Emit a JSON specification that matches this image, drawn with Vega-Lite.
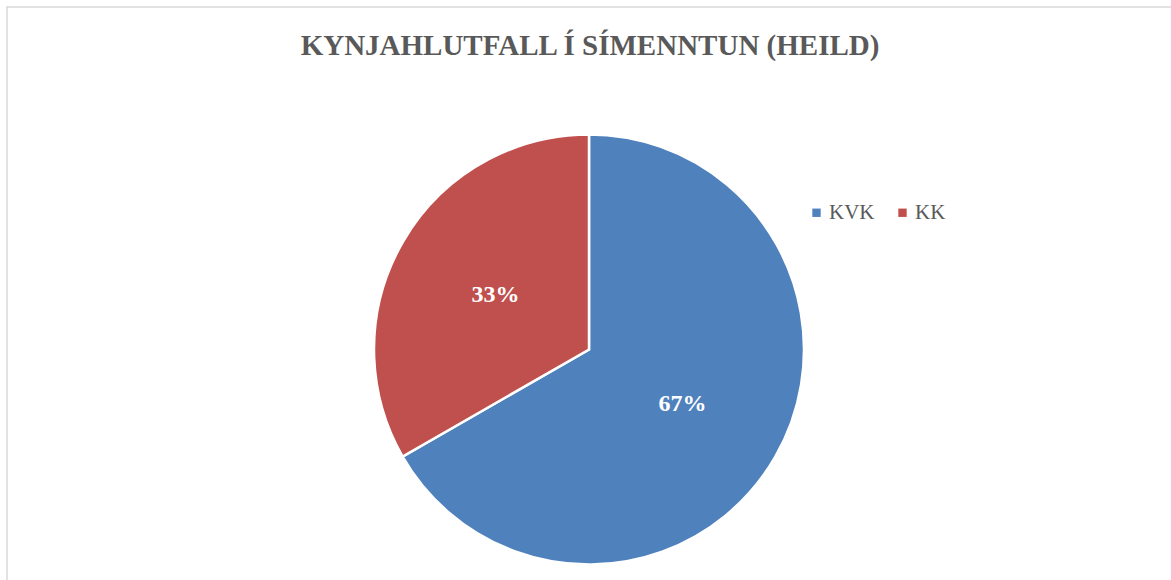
{
  "$schema": "https://vega.github.io/schema/vega-lite/v6.json",
  "width": 1166,
  "height": 575,
  "autosize": {"type": "none"},
  "padding": {"left": 7, "top": 7, "right": -2, "bottom": -2},
  "background": "white",
  "view": {"stroke": "#d9d9d9", "strokeWidth": 1.5},
  "config": {"view": {"stroke": "#d9d9d9", "strokeWidth": 1.5}},
  "title": {
    "text": "KYNJAHLUTFALL Í SÍMENNTUN (HEILD)",
    "font": "Liberation Serif",
    "fontSize": 29,
    "fontWeight": "bold",
    "color": "#595959",
    "anchor": "middle",
    "frame": "group",
    "baseline": "alphabetic",
    "offset": 0,
    "dy": 77
  },
  "data": {
    "values": [
      {"name": "KVK", "value": 0.667, "ord": 1},
      {"name": "KK", "value": 0.333, "ord": 2}
    ]
  },
  "encoding": {
    "theta": {"field": "value", "type": "quantitative", "stack": true},
    "order": {"field": "ord", "type": "quantitative"}
  },
  "layer": [
    {
      "mark": {"type": "arc", "outerRadius": 215, "stroke": "white", "strokeWidth": 2.5, "y": {"expr": "height/2 + 55"}, "x": {"expr": "width/2 - 1"}},
      "encoding": {
        "color": {
          "field": "name",
          "type": "nominal",
          "scale": {"domain": ["KVK", "KK"], "range": ["#4F81BD", "#C0504D"]},
          "legend": {
            "orient": "none",
            "legendX": 799,
            "legendY": 195,
            "direction": "horizontal",
            "title": null,
            "symbolType": "square",
            "symbolSize": 70,
            "symbolStrokeWidth": 0,
            "labelFont": "Liberation Serif",
            "labelFontSize": 21,
            "labelColor": "#595959",
            "labelOffset": 2,
            "columnPadding": 17,
            "padding": 0
          }
        }
      }
    },
    {
      "mark": {"type": "text", "radius": 108, "font": "Liberation Serif", "fontSize": 24, "fontWeight": "bold", "color": "white", "baseline": "middle", "align": "center", "y": {"expr": "height/2 + 55"}, "x": {"expr": "width/2 - 1"}},
      "encoding": {
        "text": {"field": "value", "type": "quantitative", "format": ".0%"}
      }
    }
  ]
}
